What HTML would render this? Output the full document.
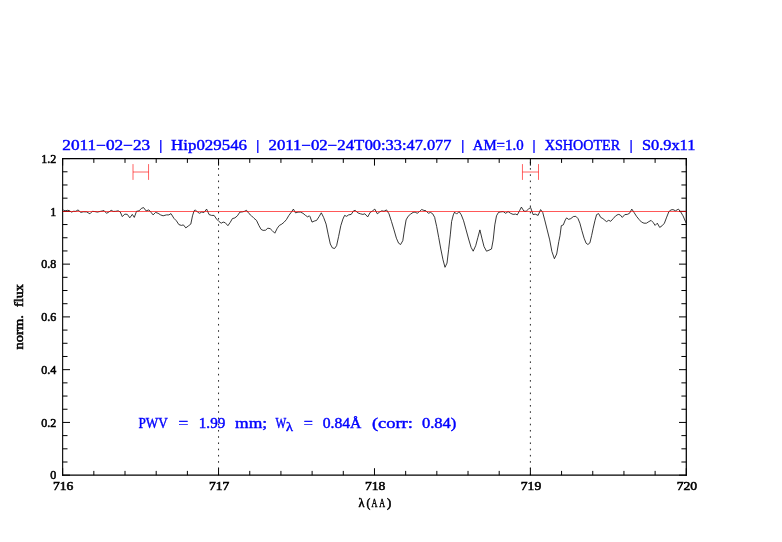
<!DOCTYPE html>
<html><head><meta charset="utf-8"><title>plot</title>
<style>
html,body{margin:0;padding:0;background:#fff;}
body{width:782px;height:542px;overflow:hidden;}
svg{display:block;transform:translateZ(0);will-change:transform;}
text{font-family:"Liberation Serif",serif;}
.t{fill:#0000ff;font-size:14px;stroke:#0000ff;stroke-width:0.42px;}
.k{fill:#000;font-size:12px;stroke:#000;stroke-width:0.55px;}
</style></head><body>
<svg width="782" height="542" viewBox="0 0 782 542">
<rect width="782" height="542" fill="#fff"/>
<g stroke="#000" stroke-width="1" fill="none">
<path d="M62.65 158.00V475.85" stroke-width="1.1"/>
<path d="M686.30 158.00V475.85" stroke-width="1.25"/>
<path d="M62.10 158.60H686.90" stroke-width="1.2"/>
<path d="M62.10 475.20H686.90" stroke-width="1.3"/>
<path d="M62.65 475.2V468.2M62.65 158.6V165.6M93.83 475.2V470.9M93.83 158.6V162.9M125.01 475.2V470.9M125.01 158.6V162.9M156.20 475.2V470.9M156.20 158.6V162.9M187.38 475.2V470.9M187.38 158.6V162.9M218.56 475.2V468.2M218.56 158.6V165.6M249.75 475.2V470.9M249.75 158.6V162.9M280.93 475.2V470.9M280.93 158.6V162.9M312.11 475.2V470.9M312.11 158.6V162.9M343.29 475.2V470.9M343.29 158.6V162.9M374.47 475.2V468.2M374.47 158.6V165.6M405.66 475.2V470.9M405.66 158.6V162.9M436.84 475.2V470.9M436.84 158.6V162.9M468.02 475.2V470.9M468.02 158.6V162.9M499.20 475.2V470.9M499.20 158.6V162.9M530.39 475.2V468.2M530.39 158.6V165.6M561.57 475.2V470.9M561.57 158.6V162.9M592.75 475.2V470.9M592.75 158.6V162.9M623.94 475.2V470.9M623.94 158.6V162.9M655.12 475.2V470.9M655.12 158.6V162.9M686.30 475.2V468.2M686.30 158.6V165.6M62.6 475.20H70.0M686.3 475.20H679.0M62.6 462.01H67.5M686.3 462.01H681.4M62.6 448.82H67.5M686.3 448.82H681.4M62.6 435.62H67.5M686.3 435.62H681.4M62.6 422.43H70.0M686.3 422.43H679.0M62.6 409.24H67.5M686.3 409.24H681.4M62.6 396.05H67.5M686.3 396.05H681.4M62.6 382.86H67.5M686.3 382.86H681.4M62.6 369.67H70.0M686.3 369.67H679.0M62.6 356.47H67.5M686.3 356.47H681.4M62.6 343.28H67.5M686.3 343.28H681.4M62.6 330.09H67.5M686.3 330.09H681.4M62.6 316.90H70.0M686.3 316.90H679.0M62.6 303.71H67.5M686.3 303.71H681.4M62.6 290.52H67.5M686.3 290.52H681.4M62.6 277.32H67.5M686.3 277.32H681.4M62.6 264.13H70.0M686.3 264.13H679.0M62.6 250.94H67.5M686.3 250.94H681.4M62.6 237.75H67.5M686.3 237.75H681.4M62.6 224.56H67.5M686.3 224.56H681.4M62.6 211.37H70.0M686.3 211.37H679.0M62.6 198.17H67.5M686.3 198.17H681.4M62.6 184.98H67.5M686.3 184.98H681.4M62.6 171.79H67.5M686.3 171.79H681.4M62.6 158.60H70.0M686.3 158.60H679.0"/>
</g>
<line x1="218.56" y1="475.2" x2="218.56" y2="158.6" stroke="#000" stroke-width="0.85" stroke-dasharray="1.6 4.635"/>
<line x1="530.39" y1="475.2" x2="530.39" y2="158.6" stroke="#000" stroke-width="0.85" stroke-dasharray="1.6 4.635"/>
<polyline points="63.3,209.9 65.0,210.9 67.5,210.3 69.1,210.6 71.6,212.1 73.3,211.3 75.8,211.3 78.0,209.9 80.8,212.4 83.3,211.8 86.6,211.9 89.9,213.8 92.4,211.3 94.9,211.6 97.4,212.1 100.7,211.3 104.1,210.6 106.5,213.3 109.0,211.9 111.2,210.3 113.2,211.4 115.7,211.3 118.2,210.8 120.2,211.9 122.3,216.6 124.8,214.1 127.3,214.4 129.8,217.8 132.3,214.4 134.3,217.4 136.5,211.3 139.0,210.9 141.5,208.3 143.6,207.6 146.1,210.9 148.9,209.9 151.1,212.4 153.1,214.9 155.6,212.4 158.1,213.3 160.6,214.9 163.1,215.8 166.4,214.9 168.9,214.9 171.0,213.6 173.9,218.3 176.4,220.8 178.9,224.6 181.4,225.4 183.4,224.9 185.8,227.9 188.7,225.7 190.8,224.1 192.5,215.8 194.1,210.8 195.3,209.9 197.5,212.1 199.6,213.3 201.6,212.1 204.1,212.4 206.6,209.1 209.1,214.6 211.6,215.4 214.1,215.4 216.6,219.1 219.1,221.6 221.2,223.2 223.2,222.1 225.2,222.7 227.9,225.7 230.2,222.4 232.4,218.6 234.9,217.9 237.4,215.8 239.9,212.1 242.4,211.9 244.5,211.3 246.5,210.3 249.0,213.6 251.5,215.8 254.0,218.3 256.5,220.4 259.0,225.7 261.1,229.4 263.1,230.4 265.6,230.2 267.8,228.2 270.1,228.6 272.3,230.7 274.8,233.2 277.3,228.2 279.4,225.4 281.8,224.1 284.2,222.1 286.4,219.6 288.9,215.4 291.4,212.1 293.4,209.1 295.5,212.9 298.0,212.1 300.5,212.1 303.0,213.3 305.5,215.4 307.7,216.9 309.3,215.8 310.0,216.6 312.0,222.1 314.2,221.1 316.6,220.4 319.1,216.6 321.3,212.8 323.6,217.4 326.1,224.1 328.3,234.9 330.3,244.0 332.4,247.9 334.6,248.5 336.6,245.7 338.6,236.5 340.8,225.7 342.9,219.1 344.6,215.4 346.6,216.3 348.6,214.9 351.2,214.4 353.6,210.8 355.2,210.4 357.9,212.9 360.4,213.8 362.9,214.4 364.9,213.8 367.7,216.9 370.2,212.4 372.3,211.1 374.8,209.1 377.3,213.8 379.5,212.1 381.8,210.8 384.0,211.3 386.5,209.9 389.0,213.8 391.5,221.6 394.0,229.9 396.4,238.2 398.6,243.2 400.6,244.5 402.8,240.7 404.4,229.9 406.1,219.9 408.1,216.3 410.6,214.1 413.1,212.4 415.1,212.1 417.2,213.3 419.4,211.6 421.7,209.5 423.9,210.4 426.0,210.8 428.4,213.3 430.5,212.4 432.7,213.8 434.7,217.4 435.0,219.1 436.7,226.6 438.7,237.4 440.8,249.0 443.0,259.8 445.0,267.3 447.0,263.1 448.6,249.8 450.3,234.9 451.6,221.6 453.3,214.9 454.6,212.1 456.6,214.1 459.1,211.6 461.3,214.9 463.6,220.8 466.1,229.9 468.6,239.0 471.1,247.4 473.2,251.2 475.7,245.7 477.9,237.4 479.9,229.9 481.9,238.2 484.0,246.5 486.5,251.2 489.0,250.2 491.5,249.0 493.2,239.9 494.8,224.9 496.5,215.8 498.5,212.4 500.7,211.9 503.2,211.6 505.7,213.3 508.1,211.6 510.6,213.3 513.1,214.4 515.6,214.1 517.3,214.9 519.5,210.8 521.4,207.1 523.9,211.1 526.1,211.3 528.4,209.1 530.6,207.5 533.1,214.6 535.2,214.1 538.1,215.4 540.6,209.6 542.7,212.4 544.7,219.9 547.2,229.9 549.7,239.9 551.9,251.5 554.4,258.7 556.7,254.0 558.8,241.5 560.0,235.7 561.3,225.7 563.3,224.9 565.3,219.9 566.6,217.9 568.6,219.4 570.8,218.6 573.3,216.6 575.8,216.3 578.0,218.6 579.9,223.2 581.9,230.7 584.1,238.2 586.1,243.2 587.9,244.5 589.9,242.9 591.6,235.7 593.2,228.2 594.9,220.8 596.6,214.6 598.6,213.6 600.7,217.4 602.9,218.6 604.9,220.3 606.5,221.6 608.7,220.3 610.7,221.3 613.2,218.6 615.7,215.8 618.2,214.4 620.2,214.9 622.3,217.4 624.8,214.6 627.3,214.4 629.5,213.3 631.8,209.1 634.0,212.4 636.5,216.3 639.0,219.4 641.5,222.1 644.0,223.2 646.4,223.2 648.9,221.6 651.1,220.4 653.1,222.4 655.1,225.4 657.3,223.2 659.7,227.4 662.2,225.7 664.4,223.2 666.4,217.9 668.9,211.6 671.0,209.9 673.0,209.6 675.5,210.8 678.4,209.1 680.5,211.6 683.0,215.8 685.5,221.6 686.3,223.2" fill="none" stroke="#000" stroke-width="0.78" stroke-linejoin="round"/>
<line x1="62.6" y1="211.5" x2="686.3" y2="211.5" stroke="#ff0000" stroke-width="0.66"/>
<path d="M133.00 164.1V179.9M148.55 164.1V179.9M133.00 172H148.55" stroke="#ff0000" stroke-width="0.62" fill="none"/>
<path d="M522.45 164.1V179.9M538.50 164.1V179.9M522.45 172H538.50" stroke="#ff0000" stroke-width="0.62" fill="none"/>
<g opacity="0.999">
<text class="t" x="62.3" y="150.3" textLength="87.9" lengthAdjust="spacingAndGlyphs">2011−02−23</text>
<line x1="160.8" y1="139.9" x2="160.8" y2="152.9" stroke="#0000ff" stroke-width="1.3"/>
<text class="t" x="171.1" y="150.3" textLength="75.9" lengthAdjust="spacingAndGlyphs">Hip029546</text>
<line x1="257.8" y1="139.9" x2="257.8" y2="152.9" stroke="#0000ff" stroke-width="1.3"/>
<text class="t" x="268.5" y="150.3" textLength="95.8" lengthAdjust="spacingAndGlyphs">2011−02−24T</text>
<text class="t" x="364.7" y="150.3" textLength="86.8" lengthAdjust="spacingAndGlyphs">00:33:47.077</text>
<line x1="462.8" y1="139.9" x2="462.8" y2="152.9" stroke="#0000ff" stroke-width="1.3"/>
<text class="t" x="472.7" y="150.3" textLength="50.9" lengthAdjust="spacingAndGlyphs">AM=1.0</text>
<line x1="534.0" y1="139.9" x2="534.0" y2="152.9" stroke="#0000ff" stroke-width="1.3"/>
<text class="t" x="544.7" y="150.3" textLength="75.5" lengthAdjust="spacingAndGlyphs">XSHOOTER</text>
<line x1="631.1" y1="139.9" x2="631.1" y2="152.9" stroke="#0000ff" stroke-width="1.3"/>
<text class="t" x="641.9" y="150.3" textLength="53.5" lengthAdjust="spacingAndGlyphs">S0.9x11</text>
<text class="t" x="138.4" y="427.6" textLength="29.3" lengthAdjust="spacingAndGlyphs">PWV</text>
<text class="t" x="178.6" y="427.6" textLength="9.7" lengthAdjust="spacingAndGlyphs">=</text>
<text class="t" x="198.8" y="427.6" textLength="26.5" lengthAdjust="spacingAndGlyphs">1.99</text>
<text class="t" x="235.1" y="427.6" textLength="32.1" lengthAdjust="spacingAndGlyphs">mm;</text>
<text class="t" x="275.4" y="427.6" textLength="10.7" lengthAdjust="spacingAndGlyphs">W</text>
<text class="t" x="303.8" y="427.6" textLength="9.1" lengthAdjust="spacingAndGlyphs">=</text>
<text class="t" x="322.7" y="427.6" textLength="38.7" lengthAdjust="spacingAndGlyphs">0.84Å</text>
<text class="t" x="371.9" y="427.6" textLength="41.0" lengthAdjust="spacingAndGlyphs">(corr:</text>
<text class="t" x="421.9" y="427.6" textLength="34.5" lengthAdjust="spacingAndGlyphs">0.84)</text>
<text class="t" transform="translate(285.93,431.2) scale(1.216,1)" style="font-size:11.8px">λ</text>
<text class="k" x="63.2" y="490.0" text-anchor="middle" textLength="20.4" lengthAdjust="spacingAndGlyphs">716</text>
<text class="k" x="219.2" y="490.0" text-anchor="middle" textLength="20.4" lengthAdjust="spacingAndGlyphs">717</text>
<text class="k" x="375.1" y="490.0" text-anchor="middle" textLength="20.4" lengthAdjust="spacingAndGlyphs">718</text>
<text class="k" x="531.0" y="490.0" text-anchor="middle" textLength="20.4" lengthAdjust="spacingAndGlyphs">719</text>
<text class="k" x="686.9" y="490.0" text-anchor="middle" textLength="20.4" lengthAdjust="spacingAndGlyphs">720</text>
<text class="k" x="56.2" y="479.4" text-anchor="end">0</text>
<text class="k" x="56.2" y="426.6" text-anchor="end">0.2</text>
<text class="k" x="56.2" y="373.9" text-anchor="end">0.4</text>
<text class="k" x="56.2" y="321.1" text-anchor="end">0.6</text>
<text class="k" x="56.2" y="268.3" text-anchor="end">0.8</text>
<text class="k" x="56.2" y="215.6" text-anchor="end">1</text>
<text class="k" x="56.2" y="162.8" text-anchor="end">1.2</text>
<text class="k" transform="translate(358.58,506.8) scale(1.030,1)" x="0" y="0">λ</text>
<text class="k" transform="translate(366.60,506.8) scale(0.940,1)" x="0" y="0">(</text>
<text class="k" transform="translate(371.62,506.8) scale(0.686,1)" x="0" y="0">A</text>
<text class="k" transform="translate(379.32,506.8) scale(0.674,1)" x="0" y="0">A</text>
<text class="k" transform="translate(386.89,506.8) scale(1.070,1)" x="0" y="0">)</text>
<g transform="translate(23.0,349.4) rotate(-90)"><text class="k" x="0" y="0" textLength="34.2" lengthAdjust="spacingAndGlyphs">norm.</text><text class="k" x="42.5" y="0" textLength="22.8" lengthAdjust="spacingAndGlyphs">flux</text></g>
</g>
</svg>
</body></html>
